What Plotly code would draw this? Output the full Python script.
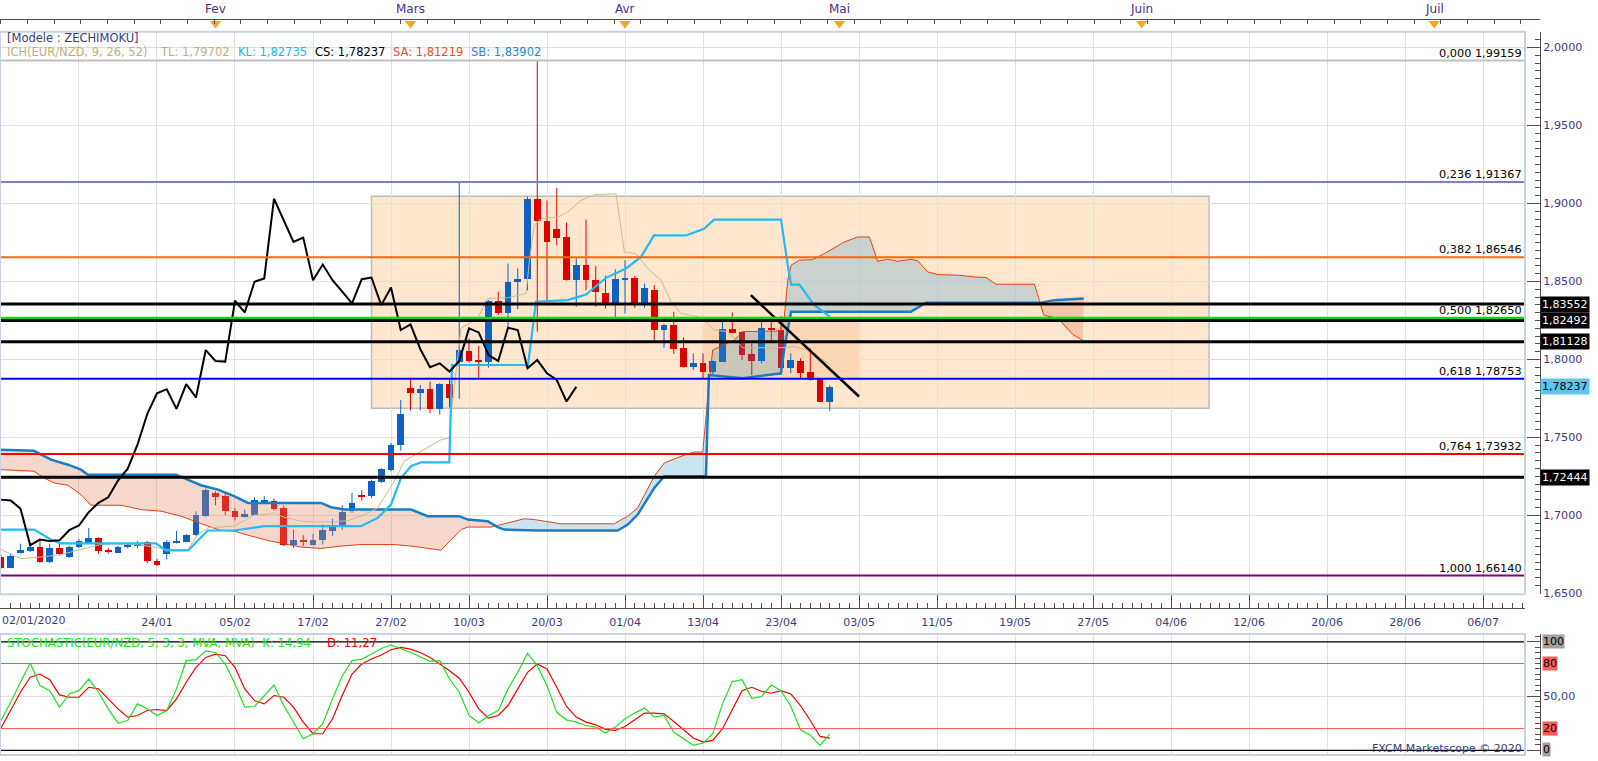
import plotly.graph_objects as go

# ---------------- data ----------------
OPEN = [1.6733, 1.6664, 1.6760, 1.6775, 1.6799, 1.6703, 1.6792, 1.6735, 1.6797, 1.6824,
        1.6856, 1.6780, 1.6762, 1.6797, 1.6810, 1.6831, 1.6711, 1.6754, 1.6824, 1.6831,
        1.6873, 1.6995, 1.7144, 1.7127, 1.7031, 1.6990, 1.7005, 1.7090, 1.7091, 1.7048,
        1.6813, 1.6840, 1.6813, 1.6840, 1.6903, 1.6935, 1.7027, 1.7129, 1.7123, 1.7214,
        1.7289, 1.7449, 1.7815, 1.7783, 1.7809, 1.7683, 1.7841, 1.7986, 1.8056, 1.7996,
        1.7986, 1.8376, 1.8301, 1.8498, 1.8514, 1.9030, 1.8887, 1.8838, 1.8785, 1.8508,
        1.8608, 1.8512, 1.8429, 1.8359, 1.8508, 1.8525, 1.8348, 1.8444, 1.8188, 1.8224,
        1.8071, 1.7954, 1.7975, 1.7922, 1.7986, 1.8199, 1.8178, 1.8033, 1.7990, 1.8203,
        1.8192, 1.7943, 1.7992, 1.7918, 1.7873, 1.7730]
HIGH = [1.6747, 1.6754, 1.6818, 1.6818, 1.6835, 1.6818, 1.6829, 1.6805, 1.6850, 1.6920,
        1.6860, 1.6792, 1.6805, 1.6824, 1.6835, 1.6835, 1.6722, 1.6843, 1.6899, 1.6880,
        1.7027, 1.7173, 1.7155, 1.7144, 1.7048, 1.7037, 1.7116, 1.7123, 1.7106, 1.7063,
        1.6909, 1.6873, 1.6882, 1.6941, 1.6978, 1.7065, 1.7144, 1.7161, 1.7229, 1.7304,
        1.7464, 1.7740, 1.7879, 1.7836, 1.7858, 1.7847, 1.7868, 1.9132, 1.8135, 1.8086,
        1.8380, 1.8434, 1.8615, 1.8583, 1.9043, 1.9916, 1.9019, 1.9098, 1.8877, 1.8657,
        1.8896, 1.8600, 1.8536, 1.8578, 1.8636, 1.8536, 1.8487, 1.8476, 1.8226, 1.8306,
        1.8141, 1.8039, 1.8039, 1.7992, 1.8263, 1.8301, 1.8180, 1.8103, 1.8263, 1.8256,
        1.8278, 1.8039, 1.8007, 1.8071, 1.7879, 1.7834]
LOW = [1.6658, 1.6661, 1.6756, 1.6765, 1.6696, 1.6696, 1.6743, 1.6728, 1.6792, 1.6824,
       1.6754, 1.6754, 1.6758, 1.6788, 1.6788, 1.6692, 1.6675, 1.6717, 1.6820, 1.6828,
       1.6867, 1.6990, 1.7065, 1.7001, 1.6967, 1.6984, 1.7001, 1.7080, 1.7031, 1.6803,
       1.6792, 1.6803, 1.6809, 1.6813, 1.6869, 1.6907, 1.7016, 1.7095, 1.7110, 1.7208,
       1.7283, 1.7414, 1.7673, 1.7673, 1.7655, 1.7645, 1.7692, 1.7747, 1.7981, 1.7879,
       1.7948, 1.8284, 1.8194, 1.8322, 1.8444, 1.8178, 1.8348, 1.8731, 1.8505, 1.8338,
       1.8444, 1.8338, 1.8327, 1.8258, 1.8295, 1.8331, 1.8331, 1.8120, 1.8075, 1.8035,
       1.7948, 1.7932, 1.7875, 1.7905, 1.7984, 1.8171, 1.7996, 1.7900, 1.7975, 1.8114,
       1.7900, 1.7911, 1.7875, 1.7864, 1.7728, 1.7670]
CLOSE = [1.6664, 1.6743, 1.6781, 1.6799, 1.6703, 1.6792, 1.6754, 1.6799, 1.6835, 1.6856,
         1.6775, 1.6772, 1.6801, 1.6813, 1.6820, 1.6707, 1.6685, 1.6831, 1.6835, 1.6877,
         1.7005, 1.7165, 1.7116, 1.7027, 1.6990, 1.7010, 1.7101, 1.7095, 1.7043, 1.6809,
         1.6845, 1.6835, 1.6840, 1.6905, 1.6935, 1.7020, 1.7080, 1.7116, 1.7223, 1.7299,
         1.7453, 1.7649, 1.7783, 1.7809, 1.7683, 1.7841, 1.7756, 1.8060, 1.7990, 1.7986,
         1.8376, 1.8301, 1.8498, 1.8519, 1.9030, 1.8887, 1.8753, 1.8781, 1.8508, 1.8608,
         1.8508, 1.8434, 1.8359, 1.8514, 1.8525, 1.8348, 1.8461, 1.8188, 1.8224, 1.8067,
         1.7950, 1.7975, 1.7922, 1.7990, 1.8199, 1.8173, 1.8028, 1.7990, 1.8203, 1.8188,
         1.7943, 1.7996, 1.7911, 1.7868, 1.7730, 1.78237]

TENKAN_X = [0, 2.05, 4.1, 6.15, 8.2, 10.26, 11.8, 13.64, 15.08, 17.13, 19.18, 20.2, 21.23, 22.26,
            23.9, 25.95, 26.97, 28.0, 29.03, 30.77, 32.1, 34.15, 35.6, 36.92, 38.64, 40.34, 41.36,
            43.08, 45.13, 45.98, 46.15, 46.67, 47.18, 48.89, 49.92, 51.97, 53.85, 54.18, 54.7,
            55.38, 57.1, 58.12, 59.49, 60.85, 63.08, 63.93, 65.13, 66.33, 67.69, 68.72, 69.74,
            71.46, 72.13, 73.16, 74.53, 75.21, 76.07, 77.95, 80.0, 81.36, 82.74, 83.76, 85]
TENKAN_Y = [1.6781, 1.6722, 1.6733, 1.6749, 1.6781, 1.6813, 1.6818, 1.6813, 1.6803, 1.6781,
            1.6781, 1.6877, 1.6920, 1.6925, 1.6931, 1.7001, 1.7005, 1.7016, 1.6988, 1.6963,
            1.6958, 1.6958, 1.6967, 1.6995, 1.7048, 1.7219, 1.7347, 1.7411, 1.7485, 1.7496,
            1.7645, 1.7922, 1.8199, 1.8263, 1.8391, 1.8395, 1.8423, 1.8625, 1.8859, 1.8902,
            1.8913, 1.8945, 1.9019, 1.9056, 1.9062, 1.8689, 1.8678, 1.8583, 1.8508, 1.8370,
            1.8295, 1.8274, 1.8252, 1.8188, 1.8178, 1.8135, 1.8075, 1.8075, 1.8075, 1.8082,
            1.8060, 1.8018, 1.79702]

KIJUN_X = [0, 3.4, 5.1, 6.15, 15.9, 16.9, 19.2, 21.2, 23.9, 27.0, 36.9, 38.64, 40.0, 41.03,
           42.05, 43.08, 45.98, 46.26, 54.05, 54.87, 58.12, 60.0, 62.05, 64.1, 65.64, 66.97,
           70.26, 72.1, 73.13, 80.0, 80.69, 81.03, 81.88, 83.42, 84.79, 85]
KIJUN_Y = [1.6909, 1.6909, 1.6845, 1.6820, 1.6820, 1.6775, 1.6775, 1.6903, 1.6903, 1.6931,
           1.6931, 1.6984, 1.7069, 1.7240, 1.7315, 1.7340, 1.7340, 1.7964, 1.7964, 1.8370,
           1.8380, 1.8416, 1.8523, 1.8583, 1.8657, 1.8795, 1.8795, 1.8838, 1.8896, 1.8896,
           1.8604, 1.8480, 1.8480, 1.8348, 1.8284, 1.82735]

SPAN_A_X = [0, 3.38, 4.41, 5.44, 6.87, 8.2, 9.23, 12.31, 14.36, 16.41, 18.46, 19.79, 21.23,
            22.56, 23.9, 25.33, 27.38, 29.03, 30.77, 32.82, 34.87, 36.92, 40.34, 42.05, 45.13,
            47.18, 47.87, 50.26, 51.28, 53.67, 54.7, 57.44, 62.9, 64.28, 65.3, 66.33, 67.0,
            68.03, 69.74, 71.11, 71.97, 72.62, 72.99, 75.21, 76.07, 80.0, 80.34, 80.69, 81.03,
            81.88, 83.25, 84.44, 86.49, 87.87, 89.06, 89.92, 90.94, 91.97, 93.33, 94.02, 95.05,
            96.07, 98.12, 99.83, 101.03, 102.05, 105.98, 106.94, 108.38, 109.92, 110.94]
SPAN_A_Y = [1.7293, 1.7283, 1.7240, 1.7208, 1.7193, 1.7133, 1.7065, 1.7065, 1.7037, 1.7027,
            1.6995, 1.6963, 1.6931, 1.6903, 1.6899, 1.6873, 1.6839, 1.6818, 1.6797, 1.6788,
            1.6803, 1.6813, 1.6813, 1.6803, 1.6777, 1.6909, 1.6925, 1.6925, 1.6941, 1.6978,
            1.6973, 1.6946, 1.6946, 1.6995, 1.7048, 1.7176, 1.7251, 1.7336, 1.7379, 1.7406,
            1.7406, 1.7836, 1.8060, 1.8124, 1.8178, 1.8182, 1.8274, 1.8508, 1.8604, 1.8636,
            1.8640, 1.8678, 1.8753, 1.8785, 1.8785, 1.8629, 1.8642, 1.8629, 1.8642, 1.8632,
            1.8561, 1.8544, 1.8540, 1.8529, 1.8525, 1.8482, 1.8482, 1.8284, 1.8263, 1.8160,
            1.81219]

SPAN_B_X = [0, 3.38, 5.13, 6.87, 8.2, 8.92, 17.95, 19.18, 20.51, 22.26, 23.9, 25.33, 32.82,
            33.85, 35.18, 42.05, 43.76, 47.0, 47.87, 49.92, 50.94, 51.62, 55.05, 63.25, 64.28,
            65.3, 66.33, 67.0, 68.03, 72.3, 72.6, 76.07, 80.0, 80.34, 81.03, 93.33, 94.87,
            106.67, 108.03, 109.74, 111.05]
SPAN_B_Y = [1.7421, 1.7414, 1.7357, 1.7325, 1.7293, 1.7261, 1.7261, 1.7229, 1.7193, 1.7165,
            1.7123, 1.7080, 1.7080, 1.7052, 1.7037, 1.7037, 1.6995, 1.6995, 1.6973, 1.6963,
            1.6925, 1.6909, 1.6903, 1.6903, 1.6941, 1.7005, 1.7112, 1.7176, 1.7251, 1.7251,
            1.7900, 1.7879, 1.7911, 1.8071, 1.8306, 1.8306, 1.8363, 1.8363, 1.8380, 1.8386,
            1.83902]

# points where Span A and Span B cross (cloud colour changes)
CROSS_X = [50.8, 106.4]
CROSS_Y = [1.6930, 1.8363]

CHIKOU_SHIFT = 26

STOCH_K = [27.5, 44.3, 62.7, 80.4, 59.6, 55.0, 39.8, 52.0, 55.0, 65.7,
           53.5, 38.2, 25.1, 27.5, 42.8, 38.2, 32.1, 36.7, 56.6, 82.6,
           83.5, 91.7, 90.2, 79.5, 61.2, 39.8, 40.4, 50.5, 60.2, 41.3,
           26.0, 10.7, 15.3, 24.5, 47.4, 68.8, 82.6, 84.1, 88.7, 93.9,
           97.2, 93.9, 90.2, 86.2, 82.0, 82.6, 65.7, 53.5, 32.1, 25.4,
           32.1, 36.7, 56.6, 71.9, 89.3, 78.0, 59.6, 35.0, 28.1, 26.0,
           22.9, 21.4, 15.9, 21.4, 29.1, 34.3, 39.1, 30.6, 32.1, 16.8,
           10.7, 4.6, 6.7, 15.3, 42.8, 63.3, 65.1, 48.0, 49.5, 60.2,
           55.0, 40.7, 19.0, 13.8, 4.6, 14.94]
STOCH_D = [20.5, 36.7, 53.5, 67.3, 70.3, 65.1, 51.1, 48.9, 48.9, 58.1,
           56.6, 47.4, 38.2, 30.6, 32.1, 36.7, 37.6, 36.7, 47.4, 62.7,
           76.5, 85.6, 88.7, 87.2, 76.5, 56.6, 45.9, 42.8, 50.5, 48.9,
           39.8, 26.0, 15.3, 15.3, 29.1, 50.5, 70.3, 79.5, 84.1, 87.8,
           92.7, 94.8, 93.3, 90.2, 85.6, 79.5, 73.4, 66.4, 53.5, 38.2,
           29.7, 32.1, 41.3, 56.6, 71.9, 79.5, 74.9, 58.1, 40.4, 30.6,
           26.0, 23.5, 19.3, 18.3, 22.0, 28.1, 34.3, 34.3, 33.6, 26.6,
           19.0, 11.3, 7.6, 9.2, 19.9, 38.2, 55.0, 58.1, 54.4, 52.6,
           55.0, 52.0, 41.3, 27.5, 12.8, 11.27]

FIB_RATIOS = [0.000, 0.236, 0.382, 0.500, 0.618, 0.764, 1.000]
FIB_LEVELS = [1.99159, 1.91367, 1.86546, 1.82650, 1.78753, 1.73932, 1.66140]
BLACK_LEVELS = [1.83552, 1.82492, 1.81128, 1.72444]

BOX_X = [38.0, 123.9]
BOX_Y = [1.7687, 1.9046]
BOX2_X = [71.95, 87.95]
BOX2_Y = [1.78753, 1.82650]
TREND_X = [76.9, 88.0]
TREND_Y = [1.8412, 1.7762]

TICK_BARS = list(range(0, 153, 8))
TICK_LABELS = ['02/01/2020', '', '24/01', '05/02', '17/02', '27/02', '10/03', '20/03',
               '01/04', '13/04', '23/04', '03/05', '11/05', '19/05', '27/05', '04/06',
               '12/06', '20/06', '28/06', '06/07']
MONTHS = ['Fev', 'Mars', 'Avr', 'Mai', 'Juin', 'Juil']
MONTH_BARS = [22, 42, 64, 86, 117, 147]

STOCH_LEVELS = [100, 80, 20, 0]

# ---------------- styling ----------------
FONT = 'DejaVu Sans'
UP = '#0d62c4'
DN = '#dd0000'
AXC = '#505050'
TXT = '#3c3c78'
GRID = '#e0e0e0'
FIB_COLORS = ['#c0c0c0', '#7f7fc8', '#ff6600', '#00e000', '#0000ff', '#ff0000', '#800080']
FIB_WIDTHS = [2, 2, 2, 2.5, 2, 2, 2]

H = 758.0  # plot-area height in px (t=0, b=3)
XR = [-0.1, 156.3]
XD = 1525 / 1540


def py(px):
    return (H - px) / H


def fmt(v, n):
    return f"{v:.{n}f}".replace('.', ',')


fig = go.Figure()

bars = list(range(len(OPEN)))

# candle bodies
base = [min(o, c) for o, c in zip(OPEN, CLOSE)]
height = [max(abs(c - o), 0.0006) for o, c in zip(OPEN, CLOSE)]
cols = [UP if c >= o else DN for o, c in zip(OPEN, CLOSE)]
fig.add_trace(go.Bar(x=bars, y=height, base=base, width=0.7,
                     marker=dict(color=cols, line=dict(width=0)),
                     xaxis='x', yaxis='y', hoverinfo='skip', showlegend=False))

# wicks
for col, up in ((UP, True), (DN, False)):
    wx, wy = [], []
    for i, (o, h, l, c) in enumerate(zip(OPEN, HIGH, LOW, CLOSE)):
        if (c >= o) == up:
            wx += [i, i, None]
            wy += [l, h, None]
    fig.add_trace(go.Scatter(x=wx, y=wy, mode='lines', line=dict(color=col, width=1),
                             xaxis='x', yaxis='y', hoverinfo='skip', showlegend=False))


# cloud polygons
def region(a, b, ca=None, cb=None):
    sa = [(x, y) for x, y in zip(SPAN_A_X, SPAN_A_Y) if a < x < b]
    sb = [(x, y) for x, y in zip(SPAN_B_X, SPAN_B_Y) if a < x < b]
    pts = []
    if ca:
        pts.append(ca)
    pts += sa
    if cb:
        pts.append(cb)
    pts += sb[::-1]
    if ca:
        pts.append(ca)
    return [p[0] for p in pts], [p[1] for p in pts]


c1 = (CROSS_X[0], CROSS_Y[0])
c2 = (CROSS_X[1], CROSS_Y[1])
regions = [
    (region(-1, CROSS_X[0], None, c1), 'rgba(226,138,98,0.33)'),
    (region(CROSS_X[0], CROSS_X[1], c1, c2), 'rgba(51,148,196,0.25)'),
    (region(CROSS_X[1], 200, c2, None), 'rgba(226,138,98,0.35)'),
]
for (rx, ry), fc in regions:
    fig.add_trace(go.Scatter(x=rx, y=ry, fill='toself', fillcolor=fc, mode='lines',
                             line=dict(width=0), xaxis='x', yaxis='y',
                             hoverinfo='skip', showlegend=False))

# ichimoku lines
fig.add_trace(go.Scatter(x=SPAN_A_X, y=SPAN_A_Y, mode='lines', line=dict(color='#e0401a', width=1),
                         xaxis='x', yaxis='y', hoverinfo='skip', showlegend=False))
fig.add_trace(go.Scatter(x=SPAN_B_X, y=SPAN_B_Y, mode='lines', line=dict(color='#1a7dc0', width=2.5),
                         xaxis='x', yaxis='y', hoverinfo='skip', showlegend=False))
fig.add_trace(go.Scatter(x=TENKAN_X, y=TENKAN_Y, mode='lines', line=dict(color='#c8bc8c', width=1),
                         xaxis='x', yaxis='y', hoverinfo='skip', showlegend=False))
fig.add_trace(go.Scatter(x=KIJUN_X, y=KIJUN_Y, mode='lines', line=dict(color='#22bbf5', width=2.2),
                         xaxis='x', yaxis='y', hoverinfo='skip', showlegend=False))
fig.add_trace(go.Scatter(x=[b - CHIKOU_SHIFT for b in bars[CHIKOU_SHIFT:]], y=CLOSE[CHIKOU_SHIFT:],
                         mode='lines', line=dict(color='black', width=2),
                         xaxis='x', yaxis='y', hoverinfo='skip', showlegend=False))
fig.add_trace(go.Scatter(x=TREND_X, y=TREND_Y, mode='lines', line=dict(color='black', width=2.5),
                         xaxis='x', yaxis='y', hoverinfo='skip', showlegend=False))

# stochastic
fig.add_trace(go.Scatter(x=bars, y=STOCH_D, mode='lines', line=dict(color='#ee0000', width=1.2),
                         xaxis='x2', yaxis='y2', hoverinfo='skip', showlegend=False))
fig.add_trace(go.Scatter(x=bars, y=STOCH_K, mode='lines', line=dict(color='#22dd22', width=1.2),
                         xaxis='x2', yaxis='y2', hoverinfo='skip', showlegend=False))

# dummy for the date axis, and month markers
fig.add_trace(go.Scatter(x=[TICK_BARS[0]], y=[None], xaxis='x3', yaxis='y', mode='markers',
                         hoverinfo='skip', showlegend=False))
fig.add_trace(go.Scatter(x=MONTH_BARS, y=[23.5] * len(MONTH_BARS), xaxis='x4', yaxis='y3',
                         mode='markers', marker=dict(symbol='triangle-down', size=10, color='#f5a623'),
                         hoverinfo='skip', showlegend=False))

# ---------------- shapes ----------------
shapes = []
shapes.append(dict(type='rect', xref='x', yref='y', x0=BOX_X[0], x1=BOX_X[1], y0=BOX_Y[0], y1=BOX_Y[1],
                   fillcolor='rgba(252,196,140,0.42)', line=dict(color='#bdbdbd', width=1.5), layer='below'))
shapes.append(dict(type='rect', xref='x', yref='y', x0=BOX2_X[0], x1=BOX2_X[1], y0=BOX2_Y[0], y1=BOX2_Y[1],
                   fillcolor='rgba(250,170,100,0.25)', line=dict(width=0), layer='below'))
for lvl, colr, w in zip(FIB_LEVELS, FIB_COLORS, FIB_WIDTHS):
    shapes.append(dict(type='line', xref='x domain', yref='y', x0=0, x1=1, y0=lvl, y1=lvl,
                       line=dict(color=colr, width=w), layer='above'))
for lvl in BLACK_LEVELS:
    shapes.append(dict(type='line', xref='x domain', yref='y', x0=0, x1=1, y0=lvl, y1=lvl,
                       line=dict(color='black', width=3), layer='above'))
for lvl in STOCH_LEVELS:
    colr = 'black' if lvl in (0, 100) else '#ff5050'
    shapes.append(dict(type='line', xref='x2 domain', yref='y2', x0=0, x1=1, y0=lvl, y1=lvl,
                       line=dict(color=colr, width=1.3 if lvl in (0, 100) else 1), layer='above'))
for xr, yr in (('x domain', 'y domain'), ('x2 domain', 'y2 domain')):
    shapes.append(dict(type='rect', xref=xr, yref=yr, x0=0, x1=1, y0=0, y1=1,
                       line=dict(color='#c8d2e0', width=2), layer='above'))

# ---------------- annotations ----------------
ann = []
for m, b in zip(MONTHS, MONTH_BARS):
    ann.append(dict(x=b, y=9.5, xref='x4', yref='y3', text=m, showarrow=False,
                    font=dict(size=12, color='#4b2d82'), xanchor='center', yanchor='middle'))
ann.append(dict(x=XR[0], y=py(622.7), xref='x', yref='paper', text=TICK_LABELS[0], showarrow=False,
                font=dict(size=11, color=TXT), xanchor='left', yanchor='middle'))

ann.append(dict(x=XR[0], xshift=5, y=py(38.5), xref='x', yref='paper', text='[Modele : ZECHIMOKU]',
                showarrow=False, font=dict(size=11.5, color='#3c3c80'), xanchor='left', yanchor='middle'))
legend_items = [
    (XR[0], 5, 'ICH(EUR/NZD, 9, 26, 52)', '#c0b07a'),
    (16, 1, 'TL: ' + fmt(TENKAN_Y[-1], 5), '#c0b07a'),
    (24, 1, 'KL: ' + fmt(KIJUN_Y[-1], 5), '#22b4ee'),
    (32, 0, 'CS: ' + fmt(CLOSE[-1], 5), 'black'),
    (40, 0, 'SA: ' + fmt(SPAN_A_Y[-1], 5), '#e8501e'),
    (48, 0, 'SB: ' + fmt(SPAN_B_Y[-1], 5), '#1e88d0'),
]
for xb, xs, t, c in legend_items:
    ann.append(dict(x=xb, xshift=xs, y=py(52.3), xref='x', yref='paper', text=t, showarrow=False,
                    font=dict(size=11.5, color=c), xanchor='left', yanchor='middle'))

for r, lvl in zip(FIB_RATIOS, FIB_LEVELS):
    ann.append(dict(x=1, xshift=-1, xref='x domain', y=lvl, yref='y', text=f"{fmt(r, 3)} {fmt(lvl, 5)}",
                    showarrow=False, font=dict(size=11.3, color='black'), xanchor='right',
                    yanchor='bottom', yshift=-1))
for lvl in BLACK_LEVELS:
    ann.append(dict(x=1, xshift=0, xref='paper', y=lvl, yref='y', text=fmt(lvl, 5), showarrow=False,
                    font=dict(size=11, color='white'), bgcolor='black', borderpad=1,
                    xanchor='left', yanchor='middle'))
ann.append(dict(x=1, xshift=0, xref='paper', y=CLOSE[-1], yref='y', text=fmt(CLOSE[-1], 5),
                showarrow=False, font=dict(size=11, color='black'), bgcolor='#5cc5f2', borderpad=1,
                xanchor='left', yanchor='middle'))
for lvl in STOCH_LEVELS:
    bg = '#a0a0a0' if lvl in (0, 100) else '#ff5a5a'
    ann.append(dict(x=1, xshift=2, xref='paper', y=lvl, yref='y2', text=str(lvl), showarrow=False,
                    font=dict(size=11, color='black'), bgcolor=bg, borderpad=0,
                    xanchor='left', yanchor='middle', yshift=1 if lvl == 0 else 0))
ann.append(dict(x=XR[0], xshift=5, xref='x2', y=99.0, yref='y2',
                text='STOCHASTIC(EUR/NZD, 5, 3, 3, MVA, MVA)  K: ' + fmt(STOCH_K[-1], 2),
                showarrow=False, font=dict(size=11.7, color='#22dd22'), xanchor='left', yanchor='middle'))
ann.append(dict(x=33.2, xref='x2', y=99.0, yref='y2', text='D: ' + fmt(STOCH_D[-1], 2),
                showarrow=False, font=dict(size=11.7, color='#ee0000'), xanchor='left', yanchor='middle'))
ann.append(dict(x=1, xshift=-1, xref='x2 domain', y=1.5, yref='y2', text='FXCM Marketscope © 2020',
                showarrow=False, font=dict(size=11, color=TXT), xanchor='right', yanchor='middle'))

# ---------------- layout ----------------
fig.update_layout(
    width=1598, height=761,
    margin=dict(l=0, r=58, t=0, b=3),
    paper_bgcolor='white', plot_bgcolor='white',
    font=dict(family=FONT, size=11, color=TXT),
    showlegend=False, hovermode=False, bargap=0,
    separators=', ',
    xaxis=dict(domain=[0, XD], range=XR, anchor='y', tickmode='array', tickvals=TICK_BARS,
               showticklabels=False, ticks='', showgrid=True, gridcolor=GRID, zeroline=False,
               showline=False, fixedrange=True),
    yaxis=dict(domain=[py(596.5), py(32)], range=[1.6495, 2.0100], side='right', anchor='free',
               position=1.0, ticks='inside', ticklen=13, tickcolor=AXC, tickwidth=1,
               tickmode='linear', tick0=1.65, dtick=0.05, tickformat='.4f',
               minor=dict(tickmode='linear', tick0=1.65, dtick=0.005, ticks='inside', ticklen=5,
                          tickcolor=AXC, showgrid=False),
               showline=True, linecolor=AXC, linewidth=1, showgrid=True, gridcolor=GRID,
               zeroline=False, tickfont=dict(size=11.2, color=TXT), fixedrange=True),
    xaxis2=dict(domain=[0, XD], range=XR, anchor='y2', tickmode='array', tickvals=TICK_BARS,
                showticklabels=False, ticks='', showgrid=True, gridcolor=GRID, zeroline=False,
                showline=False, fixedrange=True),
    yaxis2=dict(domain=[0, py(636.5)], range=[-4.3, 107.2], side='right', anchor='free', position=1.0,
                tickmode='array', tickvals=[0, 50, 100], ticktext=['', '50,00', ''],
                ticks='inside', ticklen=13, tickcolor=AXC,
                minor=dict(tickmode='linear', tick0=0, dtick=5, ticks='inside', ticklen=5,
                           tickcolor=AXC, showgrid=False),
                showline=True, linecolor=AXC, showgrid=True, gridcolor=GRID, zeroline=False,
                tickfont=dict(size=11.2, color=TXT), fixedrange=True),
    xaxis3=dict(overlaying='x', anchor='free', position=py(610), side='bottom', range=XR,
                tickmode='array', tickvals=TICK_BARS, ticktext=[''] + TICK_LABELS[1:],
                ticks='inside', ticklen=13, tickcolor=AXC,
                minor=dict(tickmode='linear', tick0=0, dtick=1, ticks='inside', ticklen=5,
                           tickcolor=AXC, showgrid=False),
                showline=True, linecolor=AXC, showgrid=False, zeroline=False,
                tickfont=dict(size=11, color=TXT), ticklabelstandoff=4, fixedrange=True),
    xaxis4=dict(domain=[0, 1], anchor='free', position=py(19), side='bottom',
                range=[XR[0], XR[0] + 1540 / 9.75], tickmode='linear', tick0=0, dtick=2.735,
                ticks='outside', ticklen=4, tickcolor=AXC, showticklabels=False,
                showline=True, linecolor=AXC, showgrid=False, zeroline=False, fixedrange=True),
    yaxis3=dict(domain=[py(32), 1.0], range=[32, 0], anchor='x4', visible=False, fixedrange=True),
    shapes=shapes,
    annotations=ann,
)

fig.write_html("out.html", config={'displayModeBar': False},
               post_script="document.body.style.margin='0px';document.body.style.padding='0px';")
